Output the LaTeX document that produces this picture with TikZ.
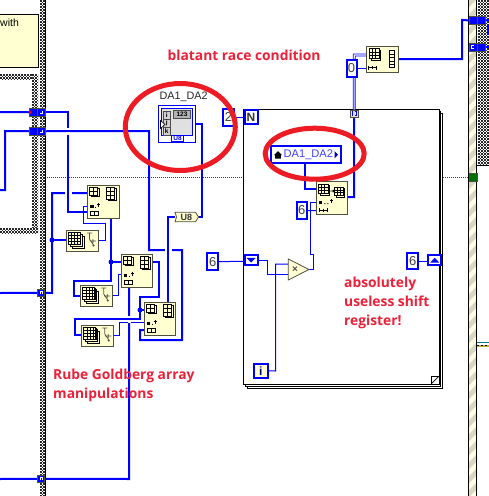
\documentclass[tikz,border=0pt]{standalone}
\usepackage{fontspec}
\setmainfont{Liberation Sans}
\newfontfamily\notefont[Scale=1]{Open Sans}
\usetikzlibrary{backgrounds}
\definecolor{wireblue}{HTML}{0000FF}
\definecolor{pale}{HTML}{FFFFD2}
\definecolor{edgegray}{HTML}{505040}
\definecolor{notered}{HTML}{EC2139}
\definecolor{circred}{HTML}{ED1C24}
\definecolor{stripe}{HTML}{D8D8C0}
\definecolor{loopgreen}{HTML}{007000}
\tikzset{
  W/.style={draw=wireblue,line width=2pt,line join=miter},
  Tn/.style={draw=wireblue,line width=1pt},
  dbl/.style={draw=wireblue,line width=0.8pt,double=white,double distance=1.1pt},
  vi/.style={draw=edgegray,fill=pale,line width=1pt,inner sep=0pt,outer sep=0pt},
  constbox/.style={draw=wireblue,fill=white,line width=2pt,inner sep=0pt,outer sep=0pt,font=\fontsize{13}{13}\selectfont,text=black!75},
  tunbox/.style={draw=edgegray,fill=wireblue,line width=0.8pt,inner sep=0pt,outer sep=0pt},
  termbox/.style={draw=wireblue,fill=white,line width=2pt,inner sep=0pt,outer sep=0pt},
  ring/.style={draw=circred,line width=5pt},
  note/.style={text=notered,font=\notefont\bfseries\fontsize{13.8}{19}\selectfont,anchor=west,inner sep=0pt,align=left},
  ic/.style={draw=black,line width=0.8pt},
  rail/.style={draw=black,line width=1pt},
  fr/.style={draw=black,fill=white,line width=1pt}
}
% name x1 y1 x2 y2 style text
\newcommand{\bx}[7]{\node[#6,minimum width={(#4-#2)*1pt},minimum height={(#5-#3)*1pt}] (#1) at ({(#2+#4)/2},{(#3+#5)/2}) {#7};}
\newcommand{\grd}[5]{% x y cols rows cell
  \draw[ic,fill=pale] ({#1+1.6},{#2+1.6}) rectangle ++({#3*#5},{#4*#5});
  \draw[ic,fill=pale] (#1,#2) rectangle ++({#3*#5},{#4*#5});
  \foreach \i in {1,...,#3}{\draw[black,line width=0.6pt] ({#1+\i*#5},#2) -- ++(0,{#4*#5});}
  \foreach \j in {1,...,#4}{\draw[black,line width=0.6pt] (#1,{#2+\j*#5}) -- ++({#3*#5},0);}
}
\newcommand{\subsnode}[3]{%
  \bx{#1}{#2}{#3}{#2+31.5}{#3+33}{vi}{}
  \begin{scope}[shift={(#2,#3)}]
    \grd{2}{2}{2}{2}{4}
    \grd{19}{2}{2}{3}{4}
    \fill[black] (2.8,20) rectangle (6,23);
    \fill[black] (7.5,21.5) rectangle (8.5,22.5);
    \draw[black,line width=0.7pt] (11,18) -- (11,22) (9.5,19.5) -- (12.5,19.5);
    \draw[ic] (2.8,26) rectangle (11,30.5);
    \draw[ic] (7,26) -- (7,30.5);
  \end{scope}}
\newcommand{\arrnode}[3]{%
  \bx{#1}{#2}{#3}{#2+32}{#3+21}{vi}{}
  \begin{scope}[shift={(#2,#3)}]
    \draw[ic,fill=pale] (6,6) rectangle (18,18);
    \grd{2.5}{2.5}{4}{4}{3}
    \draw[edgegray,line width=0.7pt] (21,3) -- (26,3) (23.5,3) -- (23.5,9) -- (28,16) (27,9) -- (27,13) (23.5,11) -- (30,11);
    \fill[edgegray] (27.5,15.5) circle (1.1);
  \end{scope}}
\newcommand{\dotted}[2]{\fill[white] (#1-1.6,#2-1.6) rectangle (#1+1.6,#2+1.6);\fill[wireblue] (#1-0.8,#2-0.8) rectangle (#1+0.8,#2+0.8);}
% checker band: x1 y1 x2 y2
\newcommand{\checker}[4]{%
  \begin{scope}
    \clip (#1,#2) rectangle (#3,#4);
    \fill[white] (#1,#2) rectangle (#3,#4);
    \pgfmathtruncatemacro{\nc}{(#3-#1)/1.5+1}
    \foreach \c in {0,...,\nc}{
      \pgfmathsetmacro{\ph}{mod(\c,2)*1.5}
      \draw[black!85,line width=1.5pt,dash pattern=on 1.5pt off 1.5pt,dash phase=\ph pt] ({#1+\c*1.5+0.75},#2) -- ({#1+\c*1.5+0.75},#4);
    }
  \end{scope}}
% crossing: the lower wire is broken
\newcommand{\gapV}[2]{\fill[white] (#1-1.5,#2-3.5) rectangle (#1+1.5,#2+3.5);\draw[W] (#1-2,#2) -- (#1+2,#2);}
\newcommand{\gapH}[2]{\fill[white] (#1-3.5,#2-1.5) rectangle (#1+3.5,#2+1.5);\draw[W] (#1,#2-2) -- (#1,#2+2);}
\begin{document}
\begin{tikzpicture}[x=1pt,y=-1pt]
\useasboundingbox (0,0) rectangle (489,496);
\begin{pgfonlayer}{background}
  \fill[white] (0,0) rectangle (489,496);
  % dotted sequence line
  \draw[loopgreen,line width=0.8pt,dash pattern=on 1pt off 1pt] (45,177.5) -- (469,177.5);
  % hatched frames
  \checker{40}{0}{45}{496}
  \checker{0}{74}{38}{79}
  \checker{32}{74}{38}{233}
  \checker{0}{228}{38}{233}
  \checker{478}{0}{489}{165}
  \draw[rail] (45.5,0) -- (45.5,496);
  % striped right rail
  \begin{scope}
    \clip (469,0) rectangle (477,496);
    \fill[pale!60!white] (469,0) rectangle (477,496);
    \foreach \s in {-14,0,...,504}{\fill[stripe] (469,\s) -- (477,\s-8) -- (477,\s-1) -- (469,\s+7) -- cycle;}
  \end{scope}
  \draw[rail] (468.7,0) -- (468.7,496) (476.8,0) -- (476.8,496);
  \draw[rail] (477,165) -- (489,165);
  \draw[draw=teal,line width=0.5pt] (477,342.5) -- (489,342.5);
  \draw[yellow!70!black,line width=2pt] (477,345.5) -- (489,345.5);
  \draw[black,line width=1pt,dash pattern=on 2pt off 2pt] (477,345.5) -- (489,345.5);
  % for loop frame
  \draw[fr] (247.5,113) rectangle (442.5,388);
  \draw[fr] (245.5,111) rectangle (440.8,386);
  \bx{loop}{243.5}{109}{439}{384}{fr}{}
  \draw[black,fill=white,line width=0.7pt] (439,376) -- (431,376) -- (431,384);
  \draw[black,line width=0.7pt] (431,384) -- (439,376);
\end{pgfonlayer}
% upper-left yellow note
\bx{notebox}{-2}{14.5}{38.7}{67.5}{draw=black,fill=pale,line width=1pt,inner sep=0pt}{}
\node[font=\fontsize{10.5}{12}\selectfont,anchor=west,inner sep=0pt] (withtext) at (0,23) {with};
% left tunnels
\bx{tLa}{29}{108}{37.5}{116.5}{tunbox}{}
\bx{tLb}{37.5}{108}{45}{116.5}{tunbox}{}
\dotted{41.2}{112.2}
\fill[red] (29.5,110) -- (32,112.2) -- (29.5,114.5) -- cycle;
\bx{tLc}{29}{127}{37.5}{135.5}{tunbox}{}
\bx{tLd}{37.5}{127}{45}{135.5}{tunbox}{}
\dotted{41.2}{131.2}
\bx{tLe}{37.8}{289}{44.8}{296.5}{tunbox}{}
\dotted{41.3}{292.8}
\bx{tLf}{37.8}{475}{44.8}{482.5}{tunbox}{}
\dotted{41.3}{478.8}
% array nodes
\subsnode{n1}{87.5}{185}
\subsnode{n2}{121.3}{254}
\subsnode{n3}{144.3}{302}
\arrnode{a1}{66}{230}
\arrnode{a2}{80.3}{285}
\arrnode{a3}{81.3}{325}
% U8 conversion
\draw[draw=edgegray,fill=pale,line width=0.8pt] (175,212.3) -- (195.5,212.3) -- (198.5,217) -- (195.5,221.8) -- (175,221.8) -- (176.5,217) -- cycle;
\node[inner sep=0pt,font=\bfseries\fontsize{9}{9}\selectfont,text=black!80] (u8) at (186.5,217) {U8};
% DA1_DA2 local
\node[font=\fontsize{10.8}{12}\selectfont,text=black!85,inner sep=0pt] (dalabel) at (183.7,96.5) {DA1\_DA2};
\bx{da}{158.5}{105.3}{195.3}{142.3}{draw=wireblue,fill=white,line width=1pt,inner sep=0pt}{}
\draw[wireblue,fill=black!12,line width=1pt] (161.5,108) rectangle (192.5,135);
\draw[black!70,fill=black!18,line width=0.8pt] (163,111) rectangle (170.7,119);
\draw[black!70,fill=black!18,line width=0.8pt] (163,119) rectangle (170.7,127);
\draw[black!70,fill=black!18,line width=0.8pt] (163,127) rectangle (170.7,135);
\node[font=\bfseries\fontsize{6.5}{7}\selectfont,inner sep=0pt] (dai) at (166.8,115) {i};
\node[font=\bfseries\fontsize{6.5}{7}\selectfont,inner sep=0pt] (daj) at (166.8,123) {j};
\node[font=\bfseries\fontsize{6.5}{7}\selectfont,inner sep=0pt] (dak) at (166.8,131) {k};
\node[draw=black!70,fill=black!30,line width=1pt,inner sep=0pt,minimum width=17.5pt,minimum height=7.5pt,font=\bfseries\fontsize{6.5}{7}\selectfont] (da123) at (182,114.7) {123};
\draw[black,fill=white,line width=0.6pt] (160.5,120.5) -- (165,124.5) -- (160.5,128.5) -- cycle;
\node[draw=wireblue,fill=white,line width=1pt,inner sep=0pt,minimum width=11.5pt,minimum height=6.5pt,font=\bfseries\fontsize{6.5}{7}\selectfont,text=wireblue] (dau8) at (177.5,138.3) {U8};
% constants
\bx{c2}{223}{109}{234}{125.5}{constbox}{2}
\bx{c0}{346.5}{60}{356.5}{76.5}{constbox}{0}
\bx{c6i}{296.5}{202}{307}{219}{constbox}{6}
\bx{c6L}{207.3}{253.3}{218}{270}{constbox}{6}
\bx{c6R}{407.3}{253}{418}{269}{constbox}{6}
% loop terminals
\bx{N}{244.5}{110}{257.8}{123.5}{termbox}{}
\node[font=\fontsize{12}{12}\selectfont\bfseries,text=black!80,inner sep=0pt] (Ntext) at (251,117) {N};
\bx{iBox}{254.3}{364}{267.5}{377.8}{draw=wireblue,fill=pale,line width=2pt,inner sep=0pt,font=\bfseries\fontsize{12}{12}\selectfont,text=wireblue!50!black}{i}
\bx{srL}{244.5}{255}{257.8}{264.5}{termbox}{}
\fill[wireblue] (246.5,257.8) -- (255.8,257.8) -- (251.2,262.5) -- cycle;
\bx{srR}{428.3}{255}{441.2}{264.5}{termbox}{}
\fill[wireblue] (430.3,262.5) -- (439.2,262.5) -- (434.8,257.8) -- cycle;
\bx{tunT}{350.3}{110}{358}{117.2}{draw=edgegray,fill=black!12,line width=0.8pt,inner sep=0pt}{}
\draw[wireblue,line width=1pt] (353,111.8) -- (352.2,111.8) -- (352.2,115.5) -- (353,115.5) (355.4,111.8) -- (356.2,111.8) -- (356.2,115.5) -- (355.4,115.5);
% enum constant
\bx{en}{270.5}{146.3}{341}{163}{termbox}{}
\node[font=\fontsize{11.1}{12}\selectfont,text=wireblue!75!white,inner sep=0pt,anchor=west] (entext) at (283.5,154.7) {DA1\_DA2};
\fill[black] (274,155) -- (278,151) -- (282,155) -- (280.8,155) -- (280.8,158.6) -- (275.2,158.6) -- (275.2,155) -- cycle;
\fill[wireblue!80!black] (334.5,151) -- (338,154.7) -- (334.5,158.4) -- cycle;
% inner subset + multiply
\bx{n4}{316.3}{181}{347.7}{214.5}{vi}{}
\begin{scope}[shift={(316.3,181)}]
  \grd{2}{3}{3}{3}{3.2}
  \grd{18.5}{6}{3}{3}{2.8}
  \fill[black] (3,20) rectangle (6,23);
  \fill[black] (8,22) rectangle (9,23) (11,22) rectangle (12,23);
  \draw[black,line width=0.7pt] (15,18) -- (15,22) (13.5,19.5) -- (16.5,19.5);
  \draw[black,line width=0.8pt] (3,27) -- (3,31) (11,27) -- (11,31) (3,29) -- (11,29) (7,27.5) -- (7,30.5);
  \draw[black,line width=0.7pt] (14,10) -- (18,10) (16.5,8.8) -- (18,10) -- (16.5,11.2);
\end{scope}
\draw[draw=edgegray,fill=pale,line width=0.8pt] (288.3,259) -- (309,269.5) -- (288.3,280) -- cycle;
\node[inner sep=0pt,font=\bfseries\fontsize{10}{10}\selectfont,text=black!70] (mul) at (295,269.5) {×};
\coordinate (mulTip) at (309,269.3);
% top-right subset
\bx{sb}{366.3}{46.3}{398}{72.7}{vi}{}
\begin{scope}[shift={(366.3,46.3)}]
  \grd{3}{2.5}{3}{3}{3.2}
  \draw[ic] (23.5,4.5) rectangle (28,21);
  \draw[black,line width=0.6pt] (23.5,8) -- (28,8) (23.5,11.3) -- (28,11.3) (23.5,14.6) -- (28,14.6) (23.5,17.9) -- (28,17.9);
  \draw[black,line width=0.8pt] (2.5,19.5) -- (2.5,23.5) (10,19.5) -- (10,23.5) (2.5,21.5) -- (10,21.5) (6.2,20) -- (6.2,23);
\end{scope}
% right tunnels
\bx{tRa}{469}{16.5}{477}{24.3}{tunbox}{}
\bx{tRb}{477}{16.5}{485}{24.3}{tunbox}{}
\bx{tRc}{469}{43}{477}{51}{tunbox}{}
\bx{tRd}{477}{43}{485}{51}{tunbox}{}
\dotted{472.8}{47}
\bx{tRe}{469}{173.5}{477}{181.5}{draw=edgegray,fill=loopgreen,line width=0.8pt,inner sep=0pt}{}
% wires
\coordinate (eA) at (0,112);
\coordinate (eB) at (0,190);
\coordinate (eC) at (0,293);
\coordinate (eD) at (0,479);
\coordinate (eE) at (489,20);
\coordinate (eF) at (489,47);
\begin{pgfonlayer}{background}
  \draw[W] (eA) -- (tLa.west);
  \draw[W] (tLb.east|-eA) -- (68,112) -- (68,212) -- (n1.west|-0,212);
  \draw[W] (tLc.west) -- (5,131) -- (5,190) -- (eB);
  \draw[W] (tLd.east) -- (149,131) -- (149,250) -- (182,250) -- (182,340) -- (140,340) -- (140,330) -- (n3.west|-0,330);
  \draw[W] (eC) -- (tLe.west);
  \draw[W] (tLe.east) -- (52,293) -- (52,193) -- (n1.west|-0,193);
  \draw[W] (52,240) -- (a1.west|-0,240);
  \fill[wireblue] (52,240) circle (2.5);
  \draw[W] (111,218) -- (111,281) -- (74,281) -- (74,295.5) -- (a2.west|-0,295.5);
  \draw[W] (111,262) -- (n2.west|-0,262);
  \fill[wireblue] (111,262) circle (2.5);
  \draw[Tn] (a1.east) -- (105,240.5) -- (105,223.5) -- (83.5,223.5) -- (83.5,206) -- (n1.west|-0,206);
  \draw[Tn] (a2.east) -- (118,295.5) -- (118,274) -- (n2.west|-0,274);
  \draw[W] (n2.east|-0,262) -- (159,262) -- (159,297) -- (140,297) -- (140,319) -- (75,319) -- (75,335) -- (a3.west|-0,335);
  \draw[W] (140,310) -- (n3.west|-0,310);
  \fill[wireblue] (140,310) circle (2.5);
  \draw[Tn] (a3.east) -- (119,335.5) -- (119,322.7) -- (n3.west|-0,322.7);
  \draw[W] (129,287) -- (129,479) -- (tLf.east);
  \draw[W] (tLf.west) -- (eD);
  \draw[W] (168,302) -- (168,217) -- (175,217);
  \draw[W] (198,217) -- (202,217) -- (202,124) -- (da.east|-0,124);
  \gapV{68}{131}
  \gapH{68}{193}
  \gapH{168}{250}
  \gapV{129}{319}
  \draw[W] (en.south-|305,0) -- (305,189) -- (n4.west|-0,189);
  \draw[W] (n4.east|-0,197) -- (354,197) -- (tunT.south);
  \draw[Tn] (n4.west|-0,202.3) -- (310.5,202.3) -- (310.5,254) -- (313.7,254) -- (313.7,269.3) -- (mulTip);
  \draw[Tn] (c6i.east) -- (n4.west|-0,210.7);
  \draw[Tn] (c6L.east) -- (srL.west|-0,261.3);
  \draw[Tn] (srL.east|-0,260.3) -- (267.7,260.3) -- (267.7,274) -- (288.3,274);
  \draw[Tn] (iBox.east) -- (275.7,371) -- (275.7,264) -- (288.3,264);
  \draw[Tn] (c6R.east) -- (srR.west|-c6R.east);
  \draw[Tn] (c2.east) -- (N.west|-c2.east);
  \draw[dbl] (tunT.north) -- (354.2,55) -- (sb.west|-0,55);
  \draw[Tn] (c0.east|-0,68) -- (sb.west|-0,68);
  \draw[W] (sb.east|-0,59) -- (462,59) -- (462,20) -- (tRa.west);
  \draw[W] (tRb.east) -- (eE);
  \draw[W] (tRd.east) -- (eF);
  \draw[W] (487.5,25) -- (487.5,35);
\end{pgfonlayer}
% red annotations
\draw[ring] (180.3,127) ellipse (55 and 43.5);
\draw[ring] (314.7,153.7) ellipse (49.5 and 25.5);
\node[note] (t1) at (167.5,55.5) {blatant race condition};
\node[note] (t2) at (344,303) {absolutely\\useless shift\\register!};
\node[note] (t3) at (53,385.5) {Rube Goldberg array\\manipulations};
\end{tikzpicture}
\end{document}
